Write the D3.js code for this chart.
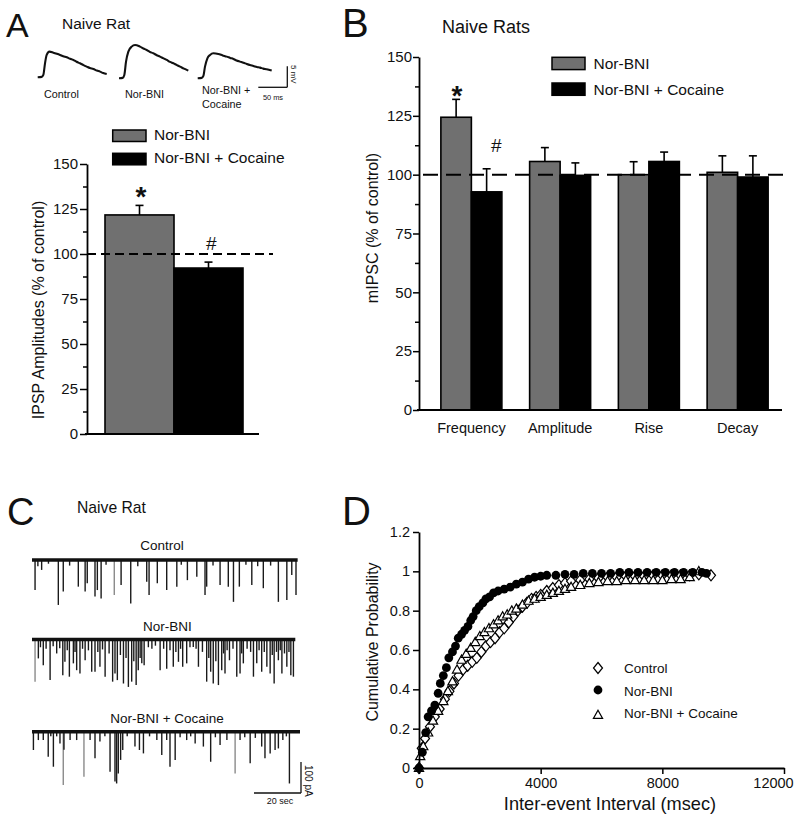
<!DOCTYPE html>
<html><head><meta charset="utf-8">
<script src="https://cdn.jsdelivr.net/npm/d3@7"></script>
<style>
body{margin:0;background:#fff}
svg{display:block}
</style>
</head><body>
<svg id="fig" width="800" height="821"></svg>
<script>
// ---------------- DATA ----------------
const seriesNames = ["Nor-BNI", "Nor-BNI + Cocaine"];

// Panel A: example IPSPs (time ms, amplitude mV)
const ipspTraceLabels = ["Control", "Nor-BNI", "Nor-BNI +\nCocaine"];
const ipspControl = [[0,0],[6.9,0.1],[9.7,0.56],[12.6,3.33],[15.5,5.32],[20.1,6.11],[27,5.87],[33,5.6],[38.5,5.32],[44,5.0],[50,4.76],[56,4.4],[61.5,4.13],[67,3.7],[73,3.33],[79,2.9],[84.5,2.54],[90,2.2],[96,1.98],[102,1.6],[107.5,1.35],[113,1.0],[119,0.79]];
const ipspNorBNI = [[0,0],[6.3,0.1],[9.2,0.79],[12.1,3.97],[16.1,6.35],[21.8,7.54],[27.6,7.94],[36.2,7.54],[42,7.1],[47.7,6.75],[53,6.3],[59.2,5.95],[65,5.5],[70.7,5.16],[76,4.8],[82.2,4.37],[88,3.9],[93.7,3.57],[99,3.2],[105.2,2.78],[112,2.3],[119.5,1.83]];
const ipspCocaine = [[0,0],[6.9,0.1],[9.8,0.56],[12.6,2.78],[16.7,4.76],[21.3,5.56],[27,5.95],[35.6,5.79],[43,5.45],[50,5.16],[56,4.85],[61.5,4.6],[67,4.25],[73,3.97],[79,3.7],[84.5,3.41],[90,3.15],[96,2.94],[102,2.7],[107.5,2.54],[113,2.3],[119,2.14],[127.6,1.83]];

// Panel A: IPSP amplitudes (% of control)
const ipspMeans = [121.7, 92.2];
const ipspErrors = [5.3, 3.3];
const barTicks = [0, 25, 50, 75, 100, 125, 150];
const barMinorTicks = [12.5, 37.5, 62.5, 87.5, 112.5, 137.5];

// Panel B: mIPSC (% of control)
const mipscCategories = ["Frequency", "Amplitude", "Rise", "Decay"];
const mipscNorBNI = [124.4, 105.6, 100.0, 101.0];
const mipscNorBNIErr = [7.6, 5.9, 5.5, 7.0];
const mipscCocaine = [92.7, 99.7, 105.6, 99.0];
const mipscCocaineErr = [9.8, 5.3, 4.0, 9.0];

// Panel C: mIPSC events (time s, amplitude pA, optional "g" = faint)
const traceCLabels = ["Control", "Nor-BNI", "Nor-BNI + Cocaine"];
const traceCDurations = [113, 112, 114];
const eventsControl = [[1.3,97],[2.5,20],[4.1,32],[7,12],[11.2,145],[13.3,102],[16,18],[19.7,86],[22.6,102],[23.5,75],[26.8,118],[27.8,97],[29.4,124],[31.5,15],[35.0,113,"g"],[37.9,81],[42.0,140],[45,20],[48.8,70],[49.8,113],[53.3,75],[57.3,97],[61.6,86],[63.5,15],[66.1,65],[70.1,54],[73.6,113],[74.3,86],[77,18],[80.0,81],[83.5,86],[85.7,135],[88.2,86],[91,15],[93.5,81],[96,20],[98.4,91],[101.5,18],[104.8,135],[108.4,129],[110.5,48],[112.3,113]];
const eventsNorBNI = [[1.3,136,"g"],[2.7,61],[3.6,25],[4.8,83],[6.0,30],[7.7,131],[9.0,22],[10.5,45],[11.8,28],[13.1,115],[14.0,72],[15.0,35],[15.9,120],[17.6,77],[18.3,40],[19.0,99],[20.4,110],[21.5,30],[22.6,67],[24.0,35],[25.4,104],[26.8,104],[28.0,40],[28.9,88],[30.0,32],[31.1,120],[32.8,45],[34.3,136],[35.3,110],[36.3,131],[37.6,50],[38.9,142],[40.0,60],[41.0,153],[42.4,136],[43.3,70],[44.3,147],[45.2,99],[46.0,60],[46.7,77],[47.7,83],[49.5,25],[51.0,30],[52.5,20],[54.5,99],[56.0,30],[57.3,94],[58.7,35],[60.1,88],[61.2,40],[62.3,72],[63.2,30],[64.1,88],[65.8,77],[67.2,25],[68.6,24],[69.8,30],[70.8,88],[72.5,40],[74.3,136],[75.2,60],[76.0,104],[77.1,142],[78.2,70],[79.3,147],[80.7,99],[81.5,45],[82.1,110],[83.0,35],[84.0,67],[85.5,30],[87.1,120],[88.5,110],[89.2,45],[89.9,77],[91.5,30],[93.0,40],[94.2,120],[95.6,77],[96.6,35],[97.7,104],[98.8,40],[99.9,88],[101.3,110],[102.2,50],[103.0,142],[104.0,40],[104.8,67],[105.6,35],[106.3,110],[107.4,45],[108.4,88],[109.3,40],[110.1,115],[111.2,120]];
const eventsCocaine = [[0.6,59],[2.7,27],[4.8,27],[6.9,81],[8.0,15],[9.1,113],[10.5,15],[11.9,38],[13.3,172,"g"],[13.6,58],[16.2,27],[19.0,27],[22.1,145,"g"],[24.7,27],[26.8,86],[28.9,32],[31.0,15],[33.2,129],[35.3,161],[36.0,167],[36.7,135],[37.7,91],[38.6,59],[40.5,15],[43.8,48],[45.7,59],[47.4,70],[50.0,15],[53.1,27],[55.2,75],[57.3,27],[58.7,113],[60.9,91],[63.0,18],[65.8,27],[67.5,15],[69.4,38],[72.9,48],[76.0,97],[78.0,18],[80.0,43],[82.9,27],[86.4,135,"g"],[88.5,27],[90.5,18],[92.8,102],[95.0,20],[97.7,48],[99.1,86],[101.3,70],[103.4,59],[104.8,54],[106.7,27],[108.2,15],[109.5,167]];

// Panel D: cumulative probability of inter-event interval (msec, probability)
const cumControl = [[0,0],[90,0.1],[200,0.15],[360,0.21],[520,0.26],[680,0.30],[850,0.35],[1000,0.39],[1150,0.43],[1300,0.47],[1450,0.50],[1600,0.52],[1750,0.54],[1900,0.56],[2050,0.59],[2200,0.62],[2350,0.64],[2500,0.66],[2650,0.69],[2800,0.71],[2950,0.74],[3100,0.77],[3250,0.80],[3400,0.82],[3550,0.84],[3700,0.86],[3850,0.87],[4000,0.88],[4200,0.90],[4400,0.915],[4600,0.93],[4800,0.94],[5000,0.95],[5300,0.955],[5600,0.96],[5900,0.965],[6200,0.97],[6500,0.97],[6800,0.975],[7100,0.975],[7400,0.975],[7700,0.98],[8000,0.98],[8300,0.98],[8600,0.98],[8900,0.98],[9200,0.985],[9600,0.98]];
const cumNorBNI = [[0,0],[110,0.08],[220,0.18],[300,0.26],[410,0.29],[520,0.32],[630,0.38],[700,0.43],[800,0.47],[900,0.51],[980,0.56],[1100,0.59],[1200,0.62],[1290,0.66],[1400,0.68],[1500,0.70],[1610,0.72],[1700,0.75],[1780,0.77],[1880,0.80],[1980,0.82],[2100,0.84],[2200,0.86],[2320,0.87],[2450,0.89],[2600,0.90],[2800,0.91],[3000,0.92],[3200,0.935],[3400,0.945],[3600,0.96],[3800,0.97],[4000,0.975],[4200,0.98],[4500,0.98],[4800,0.985],[5100,0.985],[5400,0.99],[5700,0.99],[6000,0.99],[6300,0.99],[6600,0.995],[6900,0.995],[7200,0.995],[7500,0.995],[7800,0.995],[8100,0.995],[8400,0.995],[8700,0.995],[9000,0.995],[9300,0.995],[9450,0.99]];
const cumCocaine = [[0,0],[40,0.06],[140,0.11],[300,0.18],[460,0.24],[630,0.29],[800,0.34],[950,0.39],[1100,0.44],[1250,0.50],[1400,0.55],[1550,0.58],[1700,0.61],[1850,0.64],[2000,0.67],[2150,0.69],[2300,0.71],[2450,0.73],[2600,0.75],[2750,0.77],[2900,0.78],[3050,0.80],[3200,0.81],[3400,0.83],[3600,0.85],[3800,0.86],[4000,0.87],[4200,0.88],[4400,0.89],[4600,0.90],[4800,0.91],[5000,0.92],[5300,0.93],[5600,0.94],[5900,0.945],[6200,0.95],[6500,0.95],[6800,0.955],[7100,0.955],[7400,0.955],[7700,0.955],[8000,0.955],[8300,0.96],[8600,0.96],[8900,0.97],[9200,1.0]];
const cumLegend = ["Control", "Nor-BNI", "Nor-BNI + Cocaine"];
const cumXTicks = [0, 4000, 8000, 12000];
const cumYTicks = [0, 0.2, 0.4, 0.6, 0.8, 1, 1.2];

// ---------------- DRAWING ----------------
const FONT = '"Liberation Sans", Arial, Helvetica, sans-serif';
const GRAY = "#707070";
const svg = d3.select("#fig");

function txt(x, y, s, fs, opts = {}) {
  const t = svg.append("text").attr("x", x).attr("y", y).text(s)
    .attr("font-family", FONT).attr("font-size", fs).attr("fill", opts.fill || "#111");
  if (opts.anchor) t.attr("text-anchor", opts.anchor);
  if (opts.weight) t.attr("font-weight", opts.weight);
  if (opts.style) t.attr("font-style", opts.style);
  if (opts.rotate !== undefined) t.attr("transform", `rotate(${opts.rotate},${x},${y})`);
  return t;
}
function styleAxis(g, fs) {
  g.selectAll("path.domain").attr("stroke", "#000").attr("stroke-width", 1.8);
  g.selectAll(".tick line").attr("stroke", "#000").attr("stroke-width", 1.5);
  g.selectAll(".tick text").attr("font-family", FONT).attr("font-size", fs).attr("fill", "#111");
}

// ===== Panel letters & titles =====
txt(6, 37, "A", 34);
txt(342, 37, "B", 40);
txt(7, 525, "C", 38);
txt(342, 525, "D", 40);
txt(62, 29, "Naive Rat", 15.5);
txt(442, 33, "Naive Rats", 18);
txt(77, 513, "Naive Rat", 15.7);

// ===== Panel A: IPSP traces =====
const tA = d3.scaleLinear().domain([0, 50]).range([0, 29]);
const vA = d3.scaleLinear().domain([0, 5]).range([0, 21]);
const traceOrigins = [[37.7, 77.3], [119, 78.3], [197.7, 78.3]];
[ipspControl, ipspNorBNI, ipspCocaine].forEach((tr, i) => {
  const [ox, oy] = traceOrigins[i];
  const line = d3.line().x(d => ox + tA(d[0])).y(d => oy - vA(d[1])).curve(d3.curveMonotoneX);
  svg.append("path").attr("d", line(tr)).attr("fill", "none").attr("stroke", "#111").attr("stroke-width", 2.1);
});
const traceLabelPos = [[44, 97.5], [125, 97.5], [202, 94]];
ipspTraceLabels.forEach((s, i) => {
  s.split("\n").forEach((line, j) => txt(traceLabelPos[i][0], traceLabelPos[i][1] + j * 14, line, 10.8));
});
// scale bar
{
  const bx = 287.3, by = 87.3;
  svg.append("line").attr("x1", bx).attr("x2", bx).attr("y1", by).attr("y2", by - vA(5)).attr("stroke", "#111").attr("stroke-width", 1.3);
  svg.append("line").attr("x1", bx - tA(50)).attr("x2", bx).attr("y1", by).attr("y2", by).attr("stroke", "#111").attr("stroke-width", 1.3);
  txt(291, 65, "5 mV", 8, { rotate: 90 });
  txt(273, 100, "50 ms", 7.4, { anchor: "middle" });
}

// ===== Panel A: bar chart =====
const xA = d3.scaleBand().domain(seriesNames).range([105, 243]).padding(0);
const yA = d3.scaleLinear().domain([0, 150]).range([434, 164]);
// legend
seriesNames.forEach((s, i) => {
  const ly = [130, 153.3][i];
  svg.append("rect").attr("x", 112.7).attr("y", ly).attr("width", 33.3).attr("height", 11.5)
    .attr("fill", i === 0 ? GRAY : "#000").attr("stroke", "#000").attr("stroke-width", 1.5);
  txt(154, ly + 10, s, 15.5);
});
svg.append("g").selectAll("rect").data(seriesNames).join("rect")
  .attr("x", d => xA(d)).attr("width", xA.bandwidth())
  .attr("y", (d, i) => yA(ipspMeans[i])).attr("height", (d, i) => yA(0) - yA(ipspMeans[i]))
  .attr("fill", (d, i) => i === 0 ? GRAY : "#000").attr("stroke", "#000").attr("stroke-width", 1.6);
seriesNames.forEach((s, i) => {
  const cx = xA(s) + xA.bandwidth() / 2;
  const top = yA(ipspMeans[i] + ipspErrors[i]);
  svg.append("line").attr("x1", cx).attr("x2", cx).attr("y1", yA(ipspMeans[i])).attr("y2", top).attr("stroke", "#000").attr("stroke-width", 1.6);
  svg.append("line").attr("x1", cx - 4).attr("x2", cx + 4).attr("y1", top).attr("y2", top).attr("stroke", "#000").attr("stroke-width", 1.6);
});
svg.append("line").attr("x1", 87).attr("x2", 273).attr("y1", yA(100)).attr("y2", yA(100))
  .attr("stroke", "#000").attr("stroke-width", 2).attr("stroke-dasharray", "9,5");
svg.append("line").attr("x1", 85).attr("x2", 259).attr("y1", yA(0)).attr("y2", yA(0)).attr("stroke", "#000").attr("stroke-width", 1.8);
styleAxis(svg.append("g").attr("transform", "translate(87,0)")
  .call(d3.axisLeft(yA).tickValues(barTicks).tickSize(7).tickSizeOuter(0).tickPadding(2)), 15);
{
  const g = svg.append("g").attr("transform", "translate(87,0)")
    .call(d3.axisLeft(yA).tickValues(barMinorTicks).tickSize(4).tickFormat(""));
  g.select(".domain").remove(); styleAxis(g, 15);
}
txt(141, 206, "*", 28, { anchor: "middle", weight: "bold" });
txt(211, 250, "#", 19, { anchor: "middle", style: "italic" });
txt(44, 310, "IPSP Amplitudes (% of control)", 16, { anchor: "middle", rotate: -90 });

// ===== Panel B =====
const xB = d3.scaleBand().domain(mipscCategories).range([427, 782]);
const xB1 = d3.scaleBand().domain(seriesNames).range([-30.5, 30.5]);
const yB = d3.scaleLinear().domain([0, 150]).range([410, 57]);
const bData = [];
mipscCategories.forEach((c, k) => {
  bData.push({ c, s: seriesNames[0], v: mipscNorBNI[k], e: mipscNorBNIErr[k] });
  bData.push({ c, s: seriesNames[1], v: mipscCocaine[k], e: mipscCocaineErr[k] });
});
const bx = d => xB(d.c) + xB.bandwidth() / 2 + xB1(d.s);
svg.append("g").selectAll("rect").data(bData).join("rect")
  .attr("x", bx).attr("width", xB1.bandwidth())
  .attr("y", d => yB(d.v)).attr("height", d => yB(0) - yB(d.v))
  .attr("fill", d => d.s === seriesNames[0] ? GRAY : "#000").attr("stroke", "#000").attr("stroke-width", 1.6);
bData.forEach(d => {
  const cx = bx(d) + xB1.bandwidth() / 2, top = yB(d.v + d.e);
  svg.append("line").attr("x1", cx).attr("x2", cx).attr("y1", yB(d.v)).attr("y2", top).attr("stroke", "#000").attr("stroke-width", 1.6);
  svg.append("line").attr("x1", cx - 4).attr("x2", cx + 4).attr("y1", top).attr("y2", top).attr("stroke", "#000").attr("stroke-width", 1.6);
});
svg.append("line").attr("x1", 423).attr("x2", 786).attr("y1", yB(100)).attr("y2", yB(100))
  .attr("stroke", "#000").attr("stroke-width", 2).attr("stroke-dasharray", "15,8");
svg.append("line").attr("x1", 417).attr("x2", 782).attr("y1", yB(0)).attr("y2", yB(0)).attr("stroke", "#000").attr("stroke-width", 1.8);
styleAxis(svg.append("g").attr("transform", "translate(419,0)")
  .call(d3.axisLeft(yB).tickValues(barTicks).tickSize(6).tickSizeOuter(0).tickPadding(1)), 15);
{
  const g = svg.append("g").attr("transform", "translate(419,0)")
    .call(d3.axisLeft(yB).tickValues(barMinorTicks).tickSize(4).tickFormat(""));
  g.select(".domain").remove(); styleAxis(g, 15);
}
{
  const g = svg.append("g").attr("transform", `translate(0,${yB(0)})`)
    .call(d3.axisBottom(xB).tickSize(0).tickPadding(12.5));
  g.select(".domain").remove(); styleAxis(g, 14.5);
}
seriesNames.forEach((s, i) => {
  const ly = [57.3, 83][i];
  svg.append("rect").attr("x", 552).attr("y", ly).attr("width", 33).attr("height", 12.3)
    .attr("fill", i === 0 ? GRAY : "#000").attr("stroke", "#000").attr("stroke-width", 1.5);
  txt(593.5, ly + 12, s, 15.5);
});
txt(457, 105, "*", 28, { anchor: "middle", weight: "bold" });
txt(496, 152, "#", 19, { anchor: "middle", style: "italic" });
txt(378, 228, "mIPSC (% of control)", 16, { anchor: "middle", rotate: -90 });

// ===== Panel C: mIPSC traces =====
const tC = d3.scaleLinear().domain([0, 114]).range([32, 300]);
const aC = d3.scaleLinear().domain([0, 100]).range([0, 31]);
const baseC = [560, 639.5, 731.7];
const labelC = [[162, 550], [167.5, 630.5], [167, 723]];
[eventsControl, eventsNorBNI, eventsCocaine].forEach((ev, i) => {
  const y0 = baseC[i];
  txt(labelC[i][0], labelC[i][1], traceCLabels[i], 13.5, { anchor: "middle" });
  svg.append("g").selectAll("line").data(ev).join("line")
    .attr("x1", d => tC(d[0])).attr("x2", d => tC(d[0]))
    .attr("y1", y0).attr("y2", d => y0 + aC(d[1]))
    .attr("stroke", d => d[2] === "g" ? "#8a8a8a" : "#1a1a1a").attr("stroke-width", 1.4);
  svg.append("line").attr("x1", tC(0)).attr("x2", tC(traceCDurations[i])).attr("y1", y0).attr("y2", y0)
    .attr("stroke", "#111").attr("stroke-width", 3.4);
});
{
  const sx = 301, sy = 793;
  svg.append("line").attr("x1", sx).attr("x2", sx).attr("y1", sy).attr("y2", sy - aC(100)).attr("stroke", "#111").attr("stroke-width", 1.3);
  svg.append("line").attr("x1", sx - (tC(20) - tC(0))).attr("x2", sx).attr("y1", sy).attr("y2", sy).attr("stroke", "#111").attr("stroke-width", 1.3);
  txt(305, 765, "100 pA", 10, { rotate: 90 });
  txt(280, 804, "20 sec", 9, { anchor: "middle" });
}

// ===== Panel D: cumulative probability =====
const xD = d3.scaleLinear().domain([0, 12000]).range([419, 784]);
const yD = d3.scaleLinear().domain([0, 1.2]).range([768, 532]);
const diamond = "M0,-5.5L4.5,0L0,5.5L-4.5,0Z";
const triangle = "M0,-4.8L4.6,3.4L-4.6,3.4Z";
svg.append("g").selectAll("path").data(cumControl).join("path")
  .attr("d", diamond).attr("transform", d => `translate(${xD(d[0])},${yD(d[1])})`)
  .attr("fill", "#fff").attr("stroke", "#000").attr("stroke-width", 1.2);
svg.append("g").selectAll("path").data(cumCocaine).join("path")
  .attr("d", triangle).attr("transform", d => `translate(${xD(d[0])},${yD(d[1])})`)
  .attr("fill", "#fff").attr("stroke", "#000").attr("stroke-width", 1.2);
svg.append("g").selectAll("circle").data(cumNorBNI).join("circle")
  .attr("cx", d => xD(d[0])).attr("cy", d => yD(d[1])).attr("r", 4.4).attr("fill", "#000");
styleAxis(svg.append("g").attr("transform", `translate(419,0)`)
  .call(d3.axisLeft(yD).tickValues(cumYTicks).tickSize(6).tickSizeOuter(0).tickPadding(3).tickFormat(d3.format(".1~f"))), 14.5);
{
  const g = svg.append("g").attr("transform", `translate(0,${yD(0)})`)
    .call(d3.axisBottom(xD).tickValues(cumXTicks).tickSize(6).tickSizeOuter(0).tickPadding(3.8).tickFormat(d3.format("d")));
  styleAxis(g, 14.5);
  // last label sits left of its tick in the original (figure edge)
  g.selectAll(".tick text").filter(d => d === cumXTicks[cumXTicks.length - 1]).attr("dx", -11);
}
txt(610, 809.5, "Inter-event Interval (msec)", 18.2, { anchor: "middle" });
txt(378, 642, "Cumulative Probability", 16, { anchor: "middle", rotate: -90 });
// legend
const legY = [668, 690, 715];
svg.append("path").attr("d", diamond).attr("transform", `translate(598,${legY[0]})`).attr("fill", "#fff").attr("stroke", "#000").attr("stroke-width", 1.2);
svg.append("circle").attr("cx", 598).attr("cy", legY[1]).attr("r", 4.4).attr("fill", "#000");
svg.append("path").attr("d", triangle).attr("transform", `translate(598,${legY[2]})`).attr("fill", "#fff").attr("stroke", "#000").attr("stroke-width", 1.2);
cumLegend.forEach((s, i) => txt(624, [673, 696, 718][i], s, 13.5));
</script>
</body></html>
